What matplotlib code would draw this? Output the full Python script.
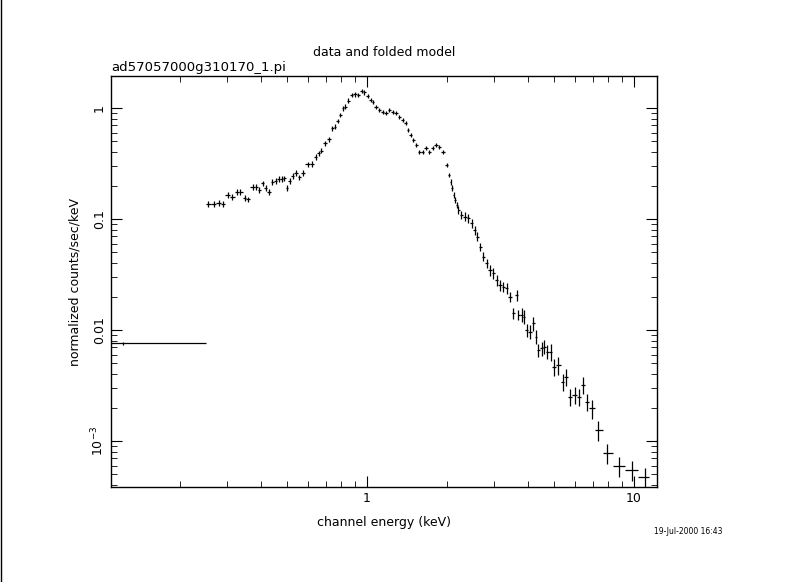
import numpy as np
import matplotlib
matplotlib.use("Agg")
import matplotlib.pyplot as plt
from matplotlib.ticker import LogLocator, FixedLocator, FixedFormatter, NullFormatter

# channel energies (keV)
energy = [0.255, 0.267, 0.279, 0.288, 0.301, 0.313, 0.327, 0.336, 0.348, 0.357,
          0.375, 0.384, 0.395, 0.408, 0.418, 0.430, 0.442, 0.455, 0.468, 0.479,
          0.490, 0.501, 0.513, 0.528, 0.542, 0.557, 0.577, 0.600, 0.624, 0.643,
          0.659, 0.673, 0.698, 0.719, 0.742, 0.759, 0.778, 0.792, 0.815, 0.827,
          0.851, 0.877, 0.902, 0.928, 0.955, 0.977, 1.006, 1.032, 1.050, 1.081,
          1.112, 1.145, 1.178, 1.213, 1.248, 1.284, 1.322, 1.360, 1.400, 1.428,
          1.458, 1.490, 1.527, 1.570, 1.617, 1.663, 1.711, 1.762, 1.813, 1.866,
          1.921, 1.988, 2.034, 2.06, 2.08, 2.11, 2.14, 2.17,
          2.20, 2.26, 2.33, 2.40, 2.47, 2.54, 2.59, 2.65, 2.73, 2.81,
          2.89, 2.97, 3.06, 3.15, 3.24, 3.34, 3.43, 3.53, 3.64, 3.69,
          3.80, 3.87, 3.96, 4.08, 4.20, 4.30, 4.38, 4.51, 4.60, 4.73,
          4.87, 5.01, 5.21, 5.41, 5.55, 5.76, 6.01, 6.24, 6.46, 6.69,
          6.94, 7.35, 7.95, 8.79, 9.80, 11.0]
# normalized counts/sec/keV
counts = [0.137, 0.137, 0.140, 0.137, 0.164, 0.159, 0.174, 0.174, 0.156, 0.150,
          0.193, 0.195, 0.182, 0.209, 0.189, 0.176, 0.214, 0.221, 0.228, 0.229,
          0.232, 0.191, 0.221, 0.245, 0.258, 0.237, 0.258, 0.310, 0.313, 0.364,
          0.391, 0.413, 0.481, 0.523, 0.656, 0.679, 0.764, 0.865, 0.993, 1.028,
          1.164, 1.309, 1.328, 1.309, 1.423, 1.380, 1.282, 1.180, 1.140, 1.028,
          0.959, 0.927, 0.895, 0.959, 0.927, 0.895, 0.824, 0.780, 0.728, 0.634,
          0.571, 0.515, 0.464, 0.404, 0.404, 0.433, 0.404, 0.433, 0.464, 0.449,
          0.404, 0.306, 0.249, 0.215, 0.190, 0.165, 0.148, 0.133,
          0.121, 0.109, 0.105, 0.101, 0.0915, 0.0796, 0.0693, 0.0563, 0.0458, 0.0399,
          0.0347, 0.0324, 0.0282, 0.0254, 0.0246, 0.0237, 0.0200, 0.0141, 0.0207, 0.0137,
          0.0137, 0.0132, 0.0100, 0.00966, 0.0115, 0.00871, 0.00661, 0.00684, 0.00708, 0.00638,
          0.00638, 0.00467, 0.00484, 0.00342, 0.00380, 0.00251, 0.00260, 0.00251, 0.00320, 0.00226,
          0.00197, 0.00126, 0.000775, 0.000596, 0.000548, 0.000477]
# relative 1-sigma errors
rel_err = [0.06] * 30 + [0.05] * 16 + [0.04] * 27 + [0.06] * 5 + \
          [0.09] * 10 + [0.11] * 10 + [0.14] * 10 + [0.18] * 10 + \
          [0.20] * 6

# first (wide) bin
low_energy = [0.122]
low_lo = [0.11]
low_hi = [0.25]
low_counts = [0.0076]

e = np.array(energy)
c = np.array(counts)
r = np.array(rel_err)
# bin edges at geometric midpoints between neighbouring channels
le = np.log10(e)
mid = (le[1:] + le[:-1]) / 2
edges_lo = np.concatenate([[le[0] - (mid[0] - le[0])], mid])
edges_hi = np.concatenate([mid, [le[-1] + (le[-1] - mid[-1]) * 0.6]])
xlo = e - 10 ** edges_lo
xhi = 10 ** edges_hi - e

fig = plt.figure(figsize=(7.9, 5.82), dpi=100)
ax = fig.add_axes([111 / 790, 1 - 487 / 582, 546 / 790, 411 / 582])
ax.errorbar(e, c, xerr=[xlo, xhi], yerr=c * r, fmt='none', ecolor='black', elinewidth=0.9)
le0 = np.array(low_energy)
ax.errorbar(le0, low_counts,
            xerr=[le0 - np.array(low_lo), np.array(low_hi) - le0],
            yerr=[np.array(low_counts) * 0.03], fmt='none', ecolor='black', elinewidth=0.9)
ax.set_xscale('log')
ax.set_yscale('log')
ax.set_xlim(0.11, 12.2)
ax.set_ylim(3.85e-4, 1.94)

ax.tick_params(which='both', direction='in', top=True, right=True, labelsize=9)
ax.tick_params(which='major', length=8)
ax.tick_params(which='minor', length=4)
ax.xaxis.set_major_locator(FixedLocator([1, 10]))
ax.xaxis.set_major_formatter(FixedFormatter(['1', '10']))
ax.xaxis.set_minor_locator(LogLocator(base=10, subs=np.arange(2, 10)))
ax.xaxis.set_minor_formatter(NullFormatter())
ax.yaxis.set_major_locator(FixedLocator([1e-3, 0.01, 0.1, 1]))
ax.yaxis.set_major_formatter(FixedFormatter(['$10^{-3}$', '0.01', '0.1', '1']))
ax.yaxis.set_minor_locator(LogLocator(base=10, subs=np.arange(2, 10)))
ax.yaxis.set_minor_formatter(NullFormatter())
for lab in ax.get_yticklabels():
    lab.set_rotation(90)
    lab.set_va('center')
for s in ax.spines.values():
    s.set_linewidth(1.0)

ax.set_xlabel('channel energy (keV)', fontsize=9, labelpad=8)
ax.set_ylabel('normalized counts/sec/keV', fontsize=9, labelpad=6)
fig.text(384 / 790, 1 - 52 / 582, 'data and folded model', ha='center', va='center', fontsize=9)
fig.text(111 / 790, 1 - 68 / 582, 'ad57057000g310170_1.pi', ha='left', va='center', fontsize=9.5)
fig.text(688 / 790, 1 - 531 / 582, '19-Jul-2000 16:43', ha='center', va='center', fontsize=5.5)
fig.add_artist(plt.Line2D([1 / 790, 1 / 790], [0, 1], color='black', lw=1))

fig.savefig('out.png', dpi=100)
